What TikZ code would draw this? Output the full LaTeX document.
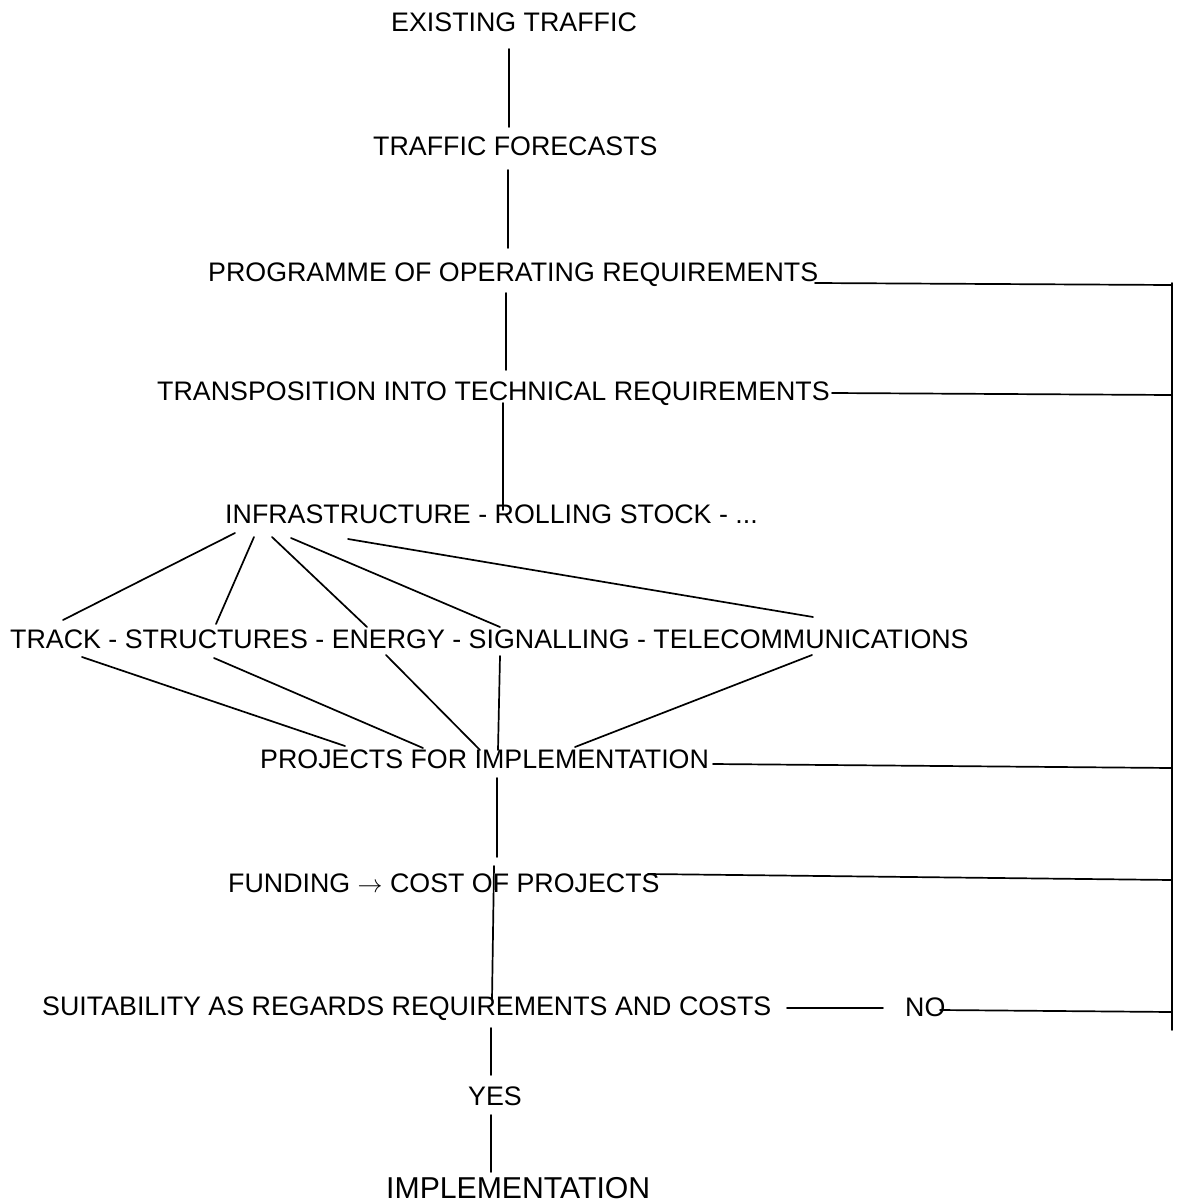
\documentclass[tikz,border=0pt]{standalone}
\usepackage{fontspec}
\setmainfont{Liberation Sans}
\begin{document}
\begin{tikzpicture}[x=1pt,y=-1pt,
  lbl/.style={anchor=base west, inner sep=0pt, font=\fontsize{26.8}{32}\selectfont},
  biglbl/.style={lbl, font=\fontsize{30.2}{36}\selectfont},
  link/.style={line width=1.7pt, line cap=round}]
\useasboundingbox (0,0) rectangle (1190,1202);

% stages of the planning process
\node[lbl] (existing)  at (391,31)   {EXISTING TRAFFIC};
\node[lbl] (forecast)  at (373,155)  {TRAFFIC FORECASTS};
\node[lbl] (programme) at (208,281)  {PROGRAMME OF OPERATING REQUIREMENTS};
\node[lbl] (transpos)  at (157,400)  {TRANSPOSITION INTO TECHNICAL REQUIREMENTS};
\node[lbl] (infra)     at (225,523)  {INFRASTRUCTURE - ROLLING STOCK - ...};
\node[lbl] (fields)    at (10,648)   {TRACK - STRUCTURES - ENERGY - SIGNALLING - TELECOMMUNICATIONS};
\node[lbl] (projects)  at (260,768)  {PROJECTS FOR IMPLEMENTATION};
\node[lbl] (funding)   at (228,892)  {FUNDING $\rightarrow$ COST OF PROJECTS};
\node[lbl] (suit)      at (42,1015)  {SUITABILITY AS REGARDS REQUIREMENTS AND COSTS};
\node[lbl] (no)        at (905,1016) {NO};
\node[lbl] (yes)       at (468,1105) {YES};
\node[biglbl] (impl)   at (386,1198) {IMPLEMENTATION};

% end points of the vertical links
\coordinate (v1a) at (509,49);   \coordinate (v1b) at (509,127);
\coordinate (v2a) at (508,170);  \coordinate (v2b) at (508,248);
\coordinate (v3a) at (506,293);  \coordinate (v3b) at (506,370);
\coordinate (v4a) at (503,403);  \coordinate (v4b) at (503,510);
\coordinate (v5a) at (497,778);  \coordinate (v5b) at (497,857);
\coordinate (v6a) at (494,866);  \coordinate (v6b) at (492,1000);
\coordinate (v7a) at (491,1028); \coordinate (v7b) at (491,1075);
\coordinate (v8a) at (491,1115); \coordinate (v8b) at (491,1172);

\draw[link] (v1a) -- (v1b);
\draw[link] (v2a) -- (v2b);
\draw[link] (v3a) -- (v3b);
\draw[link] (v4a) -- (v4b);
\draw[link] (v5a) -- (v5b);
\draw[link] (v6a) -- (v6b);
\draw[link] (v7a) -- (v7b);
\draw[link] (v8a) -- (v8b);

% fan-out to the technical fields
\coordinate (i1) at (235,533); \coordinate (f1) at (63,620);
\coordinate (i2) at (254,537); \coordinate (f2) at (216,624);
\coordinate (i3) at (272,537); \coordinate (f3) at (367,627);
\coordinate (i4) at (291,538); \coordinate (f4) at (500,627);
\coordinate (i5) at (348,539); \coordinate (f5) at (813,617);
\draw[link] (i1) -- (f1);
\draw[link] (i2) -- (f2);
\draw[link] (i3) -- (f3);
\draw[link] (i4) -- (f4);
\draw[link] (i5) -- (f5);

% fan-in to the projects
\coordinate (g1) at (82,657);  \coordinate (p1) at (345,746);
\coordinate (g2) at (214,658); \coordinate (p2) at (423,748);
\coordinate (g3) at (386,655); \coordinate (p3) at (480,750);
\coordinate (g4) at (500,656); \coordinate (p4) at (498,750);
\coordinate (g5) at (812,655); \coordinate (p5) at (575,747);
\draw[link] (g1) -- (p1);
\draw[link] (g2) -- (p2);
\draw[link] (g3) -- (p3);
\draw[link] (g4) -- (p4);
\draw[link] (g5) -- (p5);

% feedback bus on the right
\coordinate (busTop) at (1172,283);
\coordinate (busBot) at (1172,1030);
\coordinate (h1) at (815,283);  \coordinate (b1) at (1172,285);
\coordinate (h2) at (832,393);  \coordinate (b2) at (1172,395);
\coordinate (h3) at (713,764);  \coordinate (b3) at (1172,768);
\coordinate (h4) at (648,874);  \coordinate (b4) at (1172,880);
\coordinate (h5) at (940,1010); \coordinate (b5) at (1172,1012);
\coordinate (d1) at (787,1008); \coordinate (d2) at (883,1008);

\draw[link] (busTop) -- (busBot);
\draw[link] (h1) -- (b1);
\draw[link] (h2) -- (b2);
\draw[link] (h3) -- (b3);
\draw[link] (h4) -- (b4);
\draw[link] (h5) -- (b5);
\draw[link] (d1) -- (d2);
\end{tikzpicture}
\end{document}
